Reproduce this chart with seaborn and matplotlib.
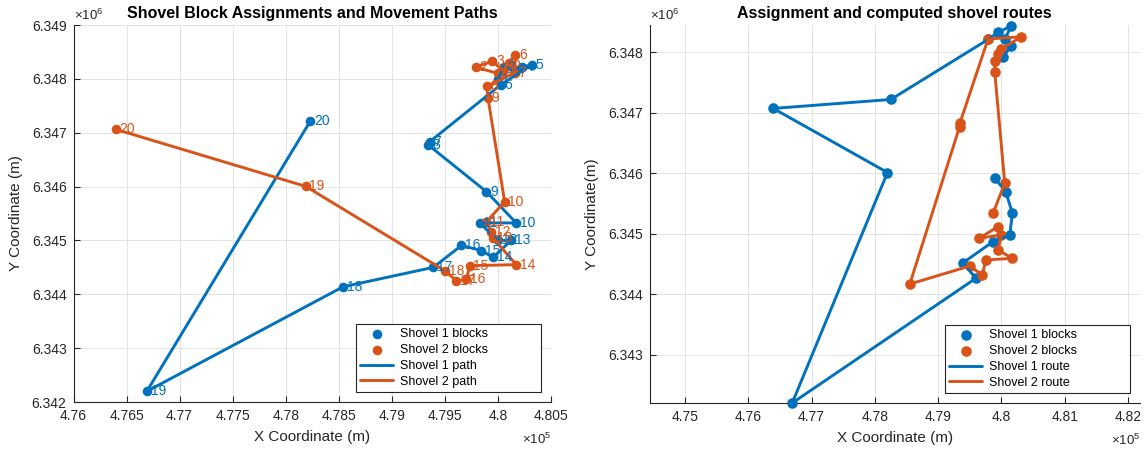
import matplotlib
matplotlib.use("Agg")
import matplotlib.pyplot as plt
import numpy as np
import pandas as pd
import seaborn as sns
from matplotlib.ticker import FuncFormatter, MultipleLocator

# ---------------- data (left panel: assignments, path order 1..20) ----------------
s1_x = [480000, 480053, 480150, 480230, 480321, 480026, 479355, 479345, 479891, 480172,
        479828, 480000, 480125, 479953, 479844, 479656, 479391, 478539, 476691, 478232]
s1_y = [6348000, 6348219, 6348180, 6348220, 6348265, 6347890, 6346830, 6346770, 6345906, 6345325,
        6345325, 6345000, 6345000, 6344687, 6344812, 6344906, 6344500, 6344138, 6342198, 6347216]
s2_x = [480000, 479789, 479947, 480050, 480100, 480164, 480158, 479895, 479906, 480063,
        479891, 479938, 479953, 480172, 479734, 479703, 479609, 479500, 478188, 476399]
s2_y = [6348100, 6348219, 6348327, 6348150, 6348300, 6348451, 6348111, 6347863, 6347648, 6345719,
        6345344, 6345156, 6345050, 6344550, 6344531, 6344281, 6344250, 6344437, 6346004, 6347062]
block_ids = list(range(1, 21))

# ---------------- data (right panel: computed routes) ----------------
r1_x = [480026, 480158, 480053, 480158, 479947, 479790, 478253, 476395, 478200, 476695,
        479595, 479395, 479868, 480132, 480174, 480068, 479895]
r1_y = [6347918, 6348109, 6348219, 6348437, 6348328, 6348212, 6347219, 6347071, 6346011, 6342198,
        6344260, 6344519, 6344867, 6344978, 6345337, 6345696, 6345917]
r2_x = [479868, 480053, 479895, 479895, 479947, 480000, 480316, 479789, 479345, 479340,
        478553, 479500, 479700, 479753, 480174, 479947, 480000, 479647, 479947]
r2_y = [6345337, 6345834, 6347672, 6347863, 6347973, 6348055, 6348257, 6348219, 6346830, 6346770,
        6344166, 6344464, 6344315, 6344564, 6344591, 6344729, 6344978, 6344923, 6345116]

BLUE = "#0072BD"
ORANGE = "#D95319"

sns.set_theme(style="white")
plt.rcParams["font.family"] = ["Liberation Sans", "DejaVu Sans"]
plt.rcParams["mathtext.fontset"] = "custom"
plt.rcParams["mathtext.rm"] = "Liberation Sans"
plt.rcParams["mathtext.it"] = "Liberation Sans"

W, H = 1146, 451
fig = plt.figure(figsize=(W / 100, H / 100), dpi=100)
L1 = (73.5, 551.0, 25.0, 402.0)     # left, right, top, bottom in pixels
L2 = (649.5, 1140.0, 25.0, 403.0)
ax1 = fig.add_axes([L1[0] / W, 1 - L1[3] / H, (L1[1] - L1[0]) / W, (L1[3] - L1[2]) / H])
ax2 = fig.add_axes([L2[0] / W, 1 - L2[3] / H, (L2[1] - L2[0]) / W, (L2[3] - L2[2]) / H])


def style_axes(ax, xstep, ystep):
    ax.set_facecolor("white")
    ax.grid(True, color="#e3e3e3", linewidth=0.7)
    ax.set_axisbelow(True)
    for s in ["top", "right"]:
        ax.spines[s].set_visible(False)
    for s in ["left", "bottom"]:
        ax.spines[s].set_color("#262626")
        ax.spines[s].set_linewidth(0.8)
    ax.xaxis.set_major_locator(MultipleLocator(xstep))
    ax.yaxis.set_major_locator(MultipleLocator(ystep))
    ax.xaxis.set_major_formatter(FuncFormatter(lambda v, p: f"{v / 1e5:g}"))
    ax.yaxis.set_major_formatter(FuncFormatter(lambda v, p: f"{v / 1e6:g}"))
    ax.tick_params(axis="both", which="major", direction="in", length=4, width=0.8,
                   color="#262626", labelsize=10, labelcolor="#262626", pad=5,
                   bottom=True, left=True, top=False, right=False)
    ax.text(0, 1.004, r"$\times10^{6}$", transform=ax.transAxes, ha="left", va="bottom",
            fontsize=9.5, color="#262626")
    ax.text(1.0, -0.078, r"$\times10^{5}$", transform=ax.transAxes, ha="right", va="top",
            fontsize=9.5, color="#262626")


def box_legend(ax, box, px_left, px_right, px_top, px_bottom):
    x0 = (px_left - box[0]) / (box[1] - box[0])
    w = (px_right - px_left) / (box[1] - box[0])
    y0 = (box[3] - px_bottom) / (box[3] - box[2])
    h = (px_bottom - px_top) / (box[3] - box[2])
    leg = ax.legend(loc="lower left", bbox_to_anchor=(x0, y0, w, h), mode="expand",
                    borderaxespad=0, fontsize=9, frameon=True, fancybox=False,
                    framealpha=1, edgecolor="#262626", handlelength=2.6,
                    handletextpad=0.6, borderpad=0.35, labelspacing=0.3)
    leg.get_frame().set_linewidth(0.8)
    for t in leg.get_texts():
        t.set_color("black")
    return leg


# ---------------- left panel ----------------
df1 = pd.DataFrame({"x": s1_x, "y": s1_y})
df2 = pd.DataFrame({"x": s2_x, "y": s2_y})
sns.scatterplot(data=df1, x="x", y="y", ax=ax1, color=BLUE, s=48, linewidth=0,
                label="Shovel 1 blocks", zorder=3)
sns.scatterplot(data=df2, x="x", y="y", ax=ax1, color=ORANGE, s=48, linewidth=0,
                label="Shovel 2 blocks", zorder=3)
sns.lineplot(data=df1, x="x", y="y", ax=ax1, sort=False, estimator=None, color=BLUE,
             linewidth=2.1, label="Shovel 1 path", zorder=4)
sns.lineplot(data=df2, x="x", y="y", ax=ax1, sort=False, estimator=None, color=ORANGE,
             linewidth=2.1, label="Shovel 2 path", zorder=4)
for xs, ys, c in [(s1_x, s1_y, BLUE), (s2_x, s2_y, ORANGE)]:
    for i, (xx, yy) in enumerate(zip(xs, ys)):
        ax1.text(xx + 35, yy, str(block_ids[i]), color=c, fontsize=10, ha="left",
                 va="center", zorder=5)

ax1.set_xlim(476000, 480500)
ax1.set_ylim(6342000, 6349000)
style_axes(ax1, 500, 1000)
ax1.set_title("Shovel Block Assignments and Movement Paths", fontsize=11.5,
              fontweight="bold", pad=5, color="black")
ax1.set_xlabel("X Coordinate (m)", fontsize=11, labelpad=5, color="#262626")
ax1.set_ylabel("Y Coordinate (m)", fontsize=11, labelpad=6, color="#262626")
box_legend(ax1, L1, 356, 541, 318, 392)

# ---------------- right panel ----------------
dr1 = pd.DataFrame({"x": r1_x, "y": r1_y})
dr2 = pd.DataFrame({"x": r2_x, "y": r2_y})
sns.scatterplot(data=dr1, x="x", y="y", ax=ax2, color=BLUE, s=58, linewidth=0,
                label="Shovel 1 blocks", zorder=3, clip_on=False)
sns.scatterplot(data=dr2, x="x", y="y", ax=ax2, color=ORANGE, s=58, linewidth=0,
                label="Shovel 2 blocks", zorder=3, clip_on=False)
sns.lineplot(data=dr1, x="x", y="y", ax=ax2, sort=False, estimator=None, color=BLUE,
             linewidth=2.1, label="Shovel 1 route", zorder=4, clip_on=False)
sns.lineplot(data=dr2, x="x", y="y", ax=ax2, sort=False, estimator=None, color=ORANGE,
             linewidth=2.1, label="Shovel 2 route", zorder=4, clip_on=False)
ax2.set_xlim(474440, 482190)
ax2.set_ylim(6342198, 6348451)
style_axes(ax2, 1000, 1000)
ax2.set_title("Assignment and computed shovel routes", fontsize=11.5,
              fontweight="bold", pad=5, color="black")
ax2.set_xlabel("X Coordinate (m)", fontsize=11, labelpad=5, color="#262626")
ax2.set_ylabel("Y Coordinate(m)", fontsize=11, labelpad=6, color="#262626")
box_legend(ax2, L2, 945, 1130, 318, 393)

fig.savefig("out.png", dpi=100, facecolor="white")
